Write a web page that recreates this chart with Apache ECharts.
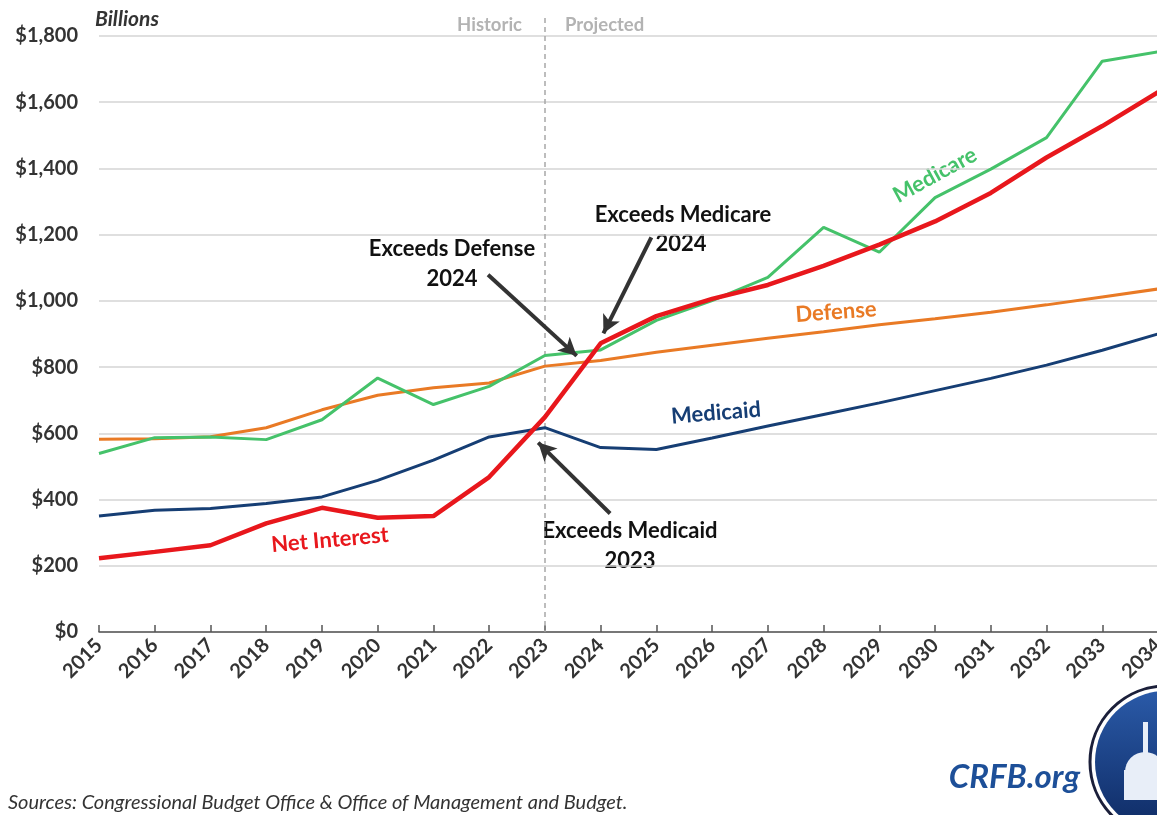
<!DOCTYPE html>
<html><head><meta charset="utf-8">
<script src="https://cdn.jsdelivr.net/npm/echarts@6/dist/echarts.min.js"></script>
<style>html,body{margin:0;padding:0;background:#fff}#c{width:1157px;height:815px}</style>
</head><body><div id="c"></div>
<script>
const years = [2015,2016,2017,2018,2019,2020,2021,2022,2023,2024,2025,2026,2027,2028,2029,2030,2031,2032,2033,2034];
const netInterest = [223,242,262,328,375,345,350,468,649,872,954,1006,1048,1106,1170,1240,1326,1433,1528,1630];
const medicare    = [539,587,589,581,641,767,687,742,835,852,941,1001,1071,1222,1147,1312,1398,1493,1724,1752];
const defense     = [582,584,590,617,671,715,738,752,803,820,845,866,887,907,928,946,966,988,1012,1036];
const medicaid    = [350,368,373,388,408,458,519,589,617,557,551,586,622,657,692,729,766,806,851,900];
const yTicks = [0,200,400,600,800,1000,1200,1400,1600,1800];

const pairs = arr => arr.map((v,i)=>[years[i],v]);
const chart = echarts.init(document.getElementById('c'));
const FONT = 'Lato';
function arrow(from,to){ return [{coord:from},{coord:to}]; }
chart.setOption({
  animation:false,
  textStyle:{fontFamily:FONT},
  grid:{left:99,right:-1,top:36,bottom:183,containLabel:false,outerBoundsMode:'none'},
  xAxis:{type:'value',min:years[0],max:years[years.length-1],interval:1,
    axisLine:{show:true,lineStyle:{color:'#555',width:1.5}},
    axisTick:{show:true,inside:true,length:7,lineStyle:{color:'#555',width:1.5}},
    splitLine:{show:false},
    axisLabel:{rotate:45,fontSize:20,fontWeight:'bold',color:'#333',margin:10,fontFamily:FONT,formatter:v=>String(v),showMaxLabel:true,showMinLabel:true}},
  yAxis:{type:'value',min:yTicks[0],max:yTicks[yTicks.length-1],interval:200,
    axisLine:{show:false},axisTick:{show:false},
    splitLine:{lineStyle:{color:'#d4d4d4',width:1.5}},
    axisLabel:{fontSize:20,fontWeight:'bold',color:'#333',margin:21,fontFamily:FONT,
      formatter:v=>'$'+v.toLocaleString('en-US')}},
  series:[
    {name:'Defense',type:'line',data:pairs(defense),showSymbol:false,lineStyle:{color:'#e97a25',width:3},z:3},
    {name:'Medicaid',type:'line',data:pairs(medicaid),showSymbol:false,lineStyle:{color:'#163e74',width:3},z:3},
    {name:'Medicare',type:'line',data:pairs(medicare),showSymbol:false,lineStyle:{color:'#45c26a',width:3},z:4},
    {name:'Net Interest',type:'line',data:pairs(netInterest),showSymbol:false,lineStyle:{color:'#e8171c',width:4.5},z:5,
      markLine:{silent:true,symbol:['none','arrow'],symbolSize:[14,18],
        lineStyle:{color:'#333',width:4,type:'solid'},label:{show:false},
        data:[
          arrow([2021.98,1079],[2023.57,834]),
          arrow([2024.91,1192],[2024.05,902]),
          arrow([2024.17,358],[2022.88,572])
        ]}}
  ],
  graphic:[
    {type:'line',shape:{x1:545,y1:18,x2:545,y2:632},style:{stroke:'#a8a8a8',lineWidth:1.5,lineDash:[5,4]},z:1},
    {type:'text',x:522,y:25,style:{text:'Historic',font:'bold 18.5px Lato',fill:'#b3b3b3',textAlign:'right',textVerticalAlign:'middle'}},
    {type:'text',x:565,y:25,style:{text:'Projected',font:'bold 18.5px Lato',fill:'#b3b3b3',textAlign:'left',textVerticalAlign:'middle'}},
    {type:'text',x:95,y:19,style:{text:'Billions',font:'italic bold 21px Lato',fill:'#333',textAlign:'left',textVerticalAlign:'middle'}},
    {type:'text',x:330,y:540,rotation:0.09,style:{text:'Net Interest',font:'bold 22px Lato',fill:'#e8171c',textAlign:'center',textVerticalAlign:'middle'}},
    {type:'text',x:716,y:413,rotation:0.08,style:{text:'Medicaid',font:'bold 22px Lato',fill:'#163e74',textAlign:'center',textVerticalAlign:'middle'}},
    {type:'text',x:836,y:312,rotation:0.07,style:{text:'Defense',font:'bold 22px Lato',fill:'#e97a25',textAlign:'center',textVerticalAlign:'middle'}},
    {type:'text',x:935,y:175,rotation:0.5,style:{text:'Medicare',font:'bold 22px Lato',fill:'#45c26a',textAlign:'center',textVerticalAlign:'middle'}},
    {type:'text',x:452,y:264,style:{text:'Exceeds Defense\n2024',font:'bold 22px Lato',lineHeight:30,fill:'#111',textAlign:'center',textVerticalAlign:'middle'}},
    {type:'text',x:683,y:215,style:{text:'Exceeds Medicare',font:'bold 22px Lato',fill:'#111',textAlign:'center',textVerticalAlign:'middle'}},
    {type:'text',x:681,y:244,style:{text:'2024',font:'bold 22px Lato',fill:'#111',textAlign:'center',textVerticalAlign:'middle'}},
    {type:'text',x:630,y:546,style:{text:'Exceeds Medicaid\n2023',font:'bold 22px Lato',lineHeight:30,fill:'#111',textAlign:'center',textVerticalAlign:'middle'}},
    {type:'text',x:8,y:803,style:{text:'Sources: Congressional Budget Office & Office of Management and Budget.',font:'italic 20px Lato',fill:'#333',textAlign:'left',textVerticalAlign:'middle'}},
    {type:'text',x:1080,y:777,style:{text:'CRFB.org',font:'italic bold 33px Lato',fill:'#1d4f98',textAlign:'right',textVerticalAlign:'middle'}},
    {type:'circle',shape:{cx:1166,cy:762,r:76},style:{fill:'#fff',stroke:'#1b1f3a',lineWidth:3}},
    {type:'circle',shape:{cx:1166,cy:762,r:71},style:{fill:new echarts.graphic.LinearGradient(0,0,0,1,[{offset:0,color:'#2a5aa8'},{offset:1,color:'#0e2a63'}])}},
    {type:'rect',shape:{x:1124,y:770,width:40,height:30},style:{fill:'#e8eef8'}},
    {type:'sector',shape:{cx:1145,cy:772,r:20,startAngle:Math.PI,endAngle:2*Math.PI},style:{fill:'#e8eef8'}},
    {type:'rect',shape:{x:1143,y:722,width:5,height:32},style:{fill:'#e8eef8'}}
  ]
});
</script></body></html>
